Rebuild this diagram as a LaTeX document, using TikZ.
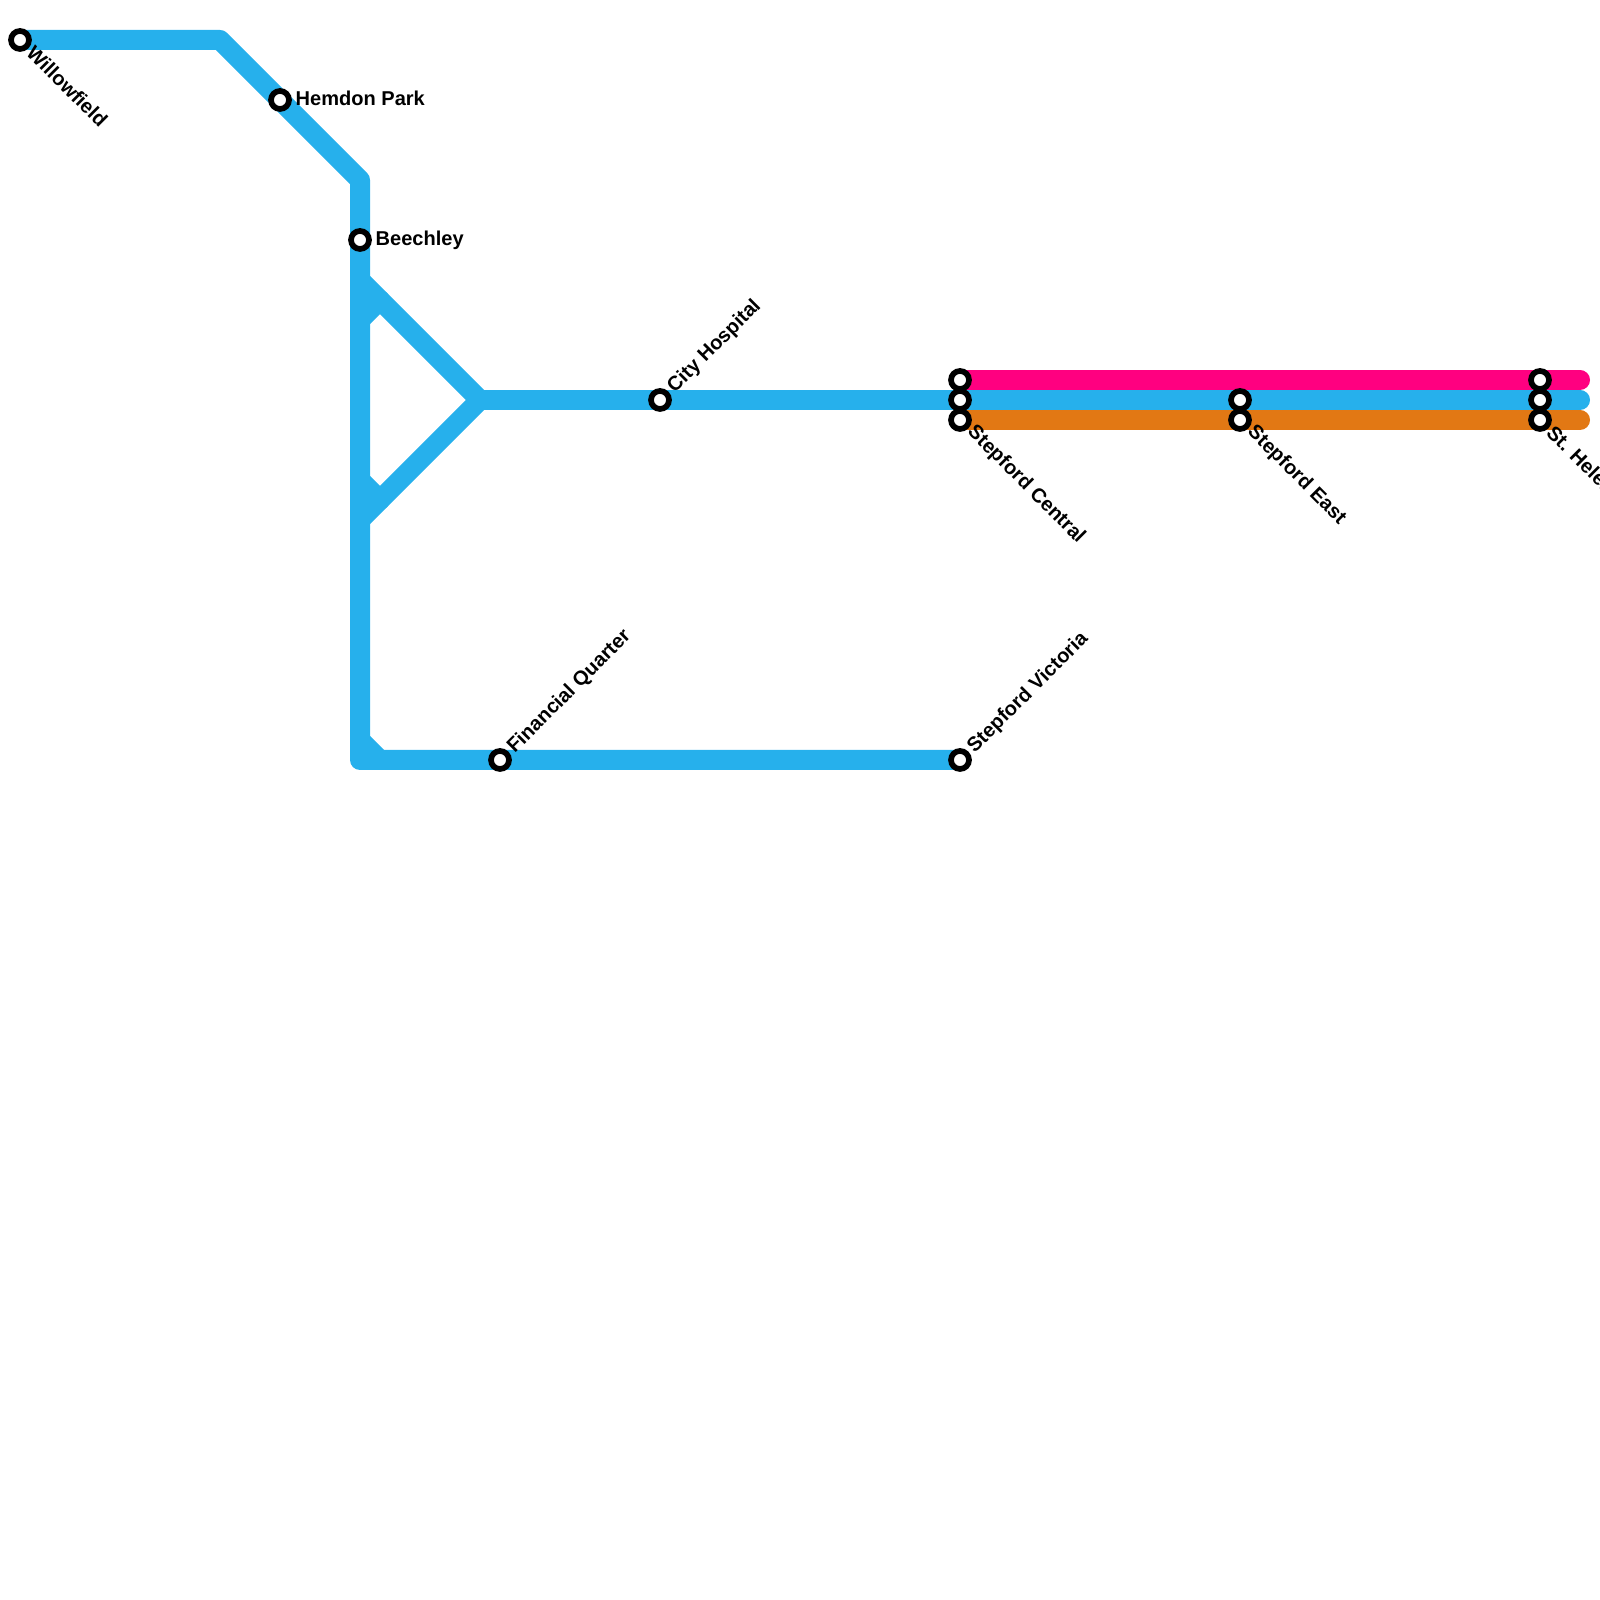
\documentclass[tikz,border=0pt]{standalone}
\usepackage{fontspec}
\setmainfont{Liberation Sans}
\usetikzlibrary{positioning}
\pgfdeclarelayer{lines}
\pgfsetlayers{lines,main}
\definecolor{lineblue}{RGB}{38,176,236}
\definecolor{linepink}{RGB}{255,0,128}
\definecolor{lineorange}{RGB}{226,120,20}

\begin{document}
\begin{tikzpicture}[
  font=\fontsize{5.7pt}{6.5pt}\selectfont\bfseries,
  track/.style={line width=0.2cm, line cap=round, line join=round},
  stn/.style={circle, draw=black, line width=0.057cm, fill=white, minimum size=0.18cm, inner sep=0pt, outer sep=0pt},
  lbl/.style={inner sep=0pt, text=black},
  lblright/.style={lbl, right=0.15cm of #1.center, anchor=base west, yshift=-0.06cm},
  lbldown/.style={lbl, rotate=-45, anchor=west, xshift=0.132cm, yshift=0.008cm},
  lblup/.style={lbl, rotate=45, anchor=west, xshift=0.143cm, yshift=-0.009cm}
]
\useasboundingbox (0,0) rectangle (16,16);

%% ---------- Bends of the lines ----------
\coordinate (topbend)   at (2.2,15.6);
\coordinate (vtop)      at (3.6,14.2);
\coordinate (forkup)    at (3.6,13.2);
\coordinate (stubup)    at (3.6,12.8);
\coordinate (stubupend) at (3.8,13.0);
\coordinate (junction)  at (4.8,12.0);
\coordinate (stubdn)    at (3.6,11.2);
\coordinate (stubdnend) at (3.8,11.0);
\coordinate (forkdn)    at (3.6,10.8);
\coordinate (stubbot)   at (3.6,8.6);
\coordinate (stubbotend) at (3.8,8.4);
\coordinate (corner)    at (3.6,8.4);
\coordinate (pinkend)   at (15.8,12.2);
\coordinate (blueend)   at (15.8,12.0);
\coordinate (orangeend) at (15.8,11.8);

%% ---------- Stations ----------
\node[stn] (willow)   at (0.2,15.6) {};
\node[stn] (hemdon)   at (2.8,15.0) {};
\node[stn] (beech)    at (3.6,13.6) {};
\node[stn] (cityhosp) at (6.6,12.0) {};
\node[stn] (finquart) at (5.0,8.4)  {};
\node[stn] (victoria) at (9.6,8.4)  {};

\node[stn] (centralp) at (9.6,12.2) {};
\node[stn] (centralb) at (9.6,12.0) {};
\node[stn] (centralo) at (9.6,11.8) {};
\node[stn] (eastb)    at (12.4,12.0) {};
\node[stn] (easto)    at (12.4,11.8) {};
\node[stn] (helensp)  at (15.4,12.2) {};
\node[stn] (helensb)  at (15.4,12.0) {};
\node[stn] (helenso)  at (15.4,11.8) {};

%% ---------- Lines, behind the stations ----------
\begin{pgfonlayer}{lines}
\draw[track, lineblue] (willow.center) -- (topbend) -- (vtop) -- (corner) -- (victoria.center);
\draw[track, lineblue] (forkup) -- (junction) -- (forkdn);
\draw[track, lineblue] (stubup) -- (stubupend);
\draw[track, lineblue] (stubdn) -- (stubdnend);
\draw[track, lineblue] (stubbot) -- (stubbotend);
\draw[track, lineblue] (junction) -- (blueend);
\draw[track, linepink] (centralp.center) -- (pinkend);
\draw[track, lineorange] (centralo.center) -- (orangeend);
\end{pgfonlayer}

%% ---------- Labels ----------
\node[lbldown] (willowlbl) at (willow.center) {Willowfield};
\node[lblright=hemdon] (hemdonlbl) {Hemdon Park};
\node[lblright=beech] (beechlbl) {Beechley};
\node[lblup] (cityhosplbl) at (cityhosp.center) {City Hospital};
\node[lblup] (finquartlbl) at (finquart.center) {Financial Quarter};
\node[lblup] (victorialbl) at (victoria.center) {Stepford Victoria};
\node[lbldown] (centrallbl) at (centralo.center) {Stepford Central};
\node[lbldown] (eastlbl) at (easto.center) {Stepford East};
\node[lbldown] (helenslbl) at (helenso.center) {St. Helens};

\end{tikzpicture}
\end{document}
